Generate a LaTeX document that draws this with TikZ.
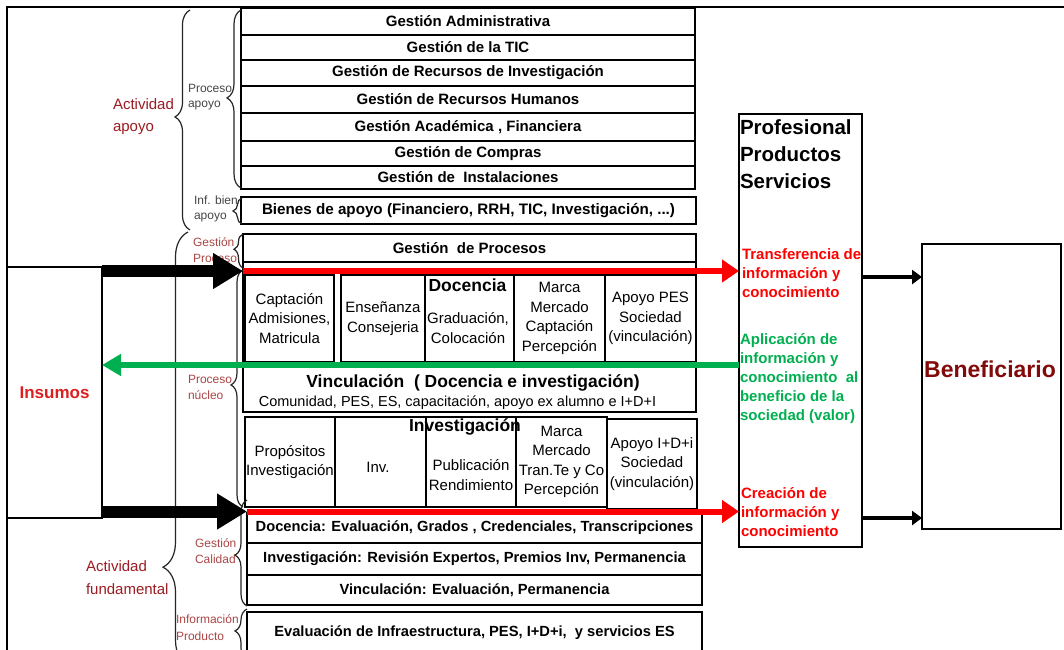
\documentclass[tikz,border=0pt]{standalone}
\usepackage{fontspec}
\setmainfont{Liberation Sans}
\usetikzlibrary{arrows.meta,decorations.pathreplacing,calc}
\definecolor{labred}{RGB}{155,28,34}
\definecolor{labsoft}{RGB}{170,70,70}
\definecolor{labgrey}{RGB}{70,70,70}
\definecolor{insred}{RGB}{220,30,30}
\definecolor{benred}{RGB}{130,10,10}
\definecolor{flowred}{RGB}{255,0,0}
\definecolor{flowgreen}{RGB}{0,176,80}
\newcommand{\fsz}[2]{\fontsize{#1}{#2}\selectfont}

\begin{document}
\begin{tikzpicture}[x=1pt,y=-1pt,
  every node/.style={inner sep=0pt, outer sep=0pt},
  box/.style={draw, line width=1.6pt, align=center},
  supbox/.style={box, minimum width=454pt, font=\bfseries\fsz{15}{17}},
  cellbox/.style={box, line width=1.4pt, font=\fsz{15}{19.5}},
  celltext/.style={align=center, font=\fsz{15}{19.5}},
  qbox/.style={box, minimum width=455pt, font=\bfseries\fsz{14.7}{17}},
  sidelab/.style={align=left, anchor=west},
  bracepath/.style={decorate, line width=1.2pt, draw=black!85},
  fatarrow/.style={draw=black, line width=12pt, -{Triangle[length=30pt,width=34pt]}},
  redarrow/.style={draw=flowred, line width=6pt, -{Triangle[length=17pt,width=22pt]}},
  greenarrow/.style={draw=flowgreen, line width=6pt, -{Triangle[length=19pt,width=21pt]}},
  outarrow/.style={draw=black, line width=4pt, -{Triangle[length=10pt,width=14pt]}}
]
\useasboundingbox (0,0) rectangle (1064,649);
\clip (0,0) rectangle (1064,649);
\fill[white] (0,0) rectangle (1064,649);

% outer frame
\draw[line width=2pt] (7,670) -- (7,7) -- (1080,7);

% support processes
\node[supbox, minimum height=27pt] (ga) at (468,21.5) {Gestión Administrativa};
\node[supbox, minimum height=25pt] (gt) at (468,47.5) {Gestión de la TIC};
\node[supbox, minimum height=26pt] (gri) at (468,73) {Gestión de Recursos de Investigación};
\node[supbox, minimum height=27pt] (grh) at (468,99.5) {Gestión de Recursos Humanos};
\node[supbox, minimum height=28pt] (gaf) at (468,127) {Gestión Académica , Financiera};
\node[supbox, minimum height=25pt] (gc) at (468,153.5) {Gestión de Compras};
\node[supbox, minimum height=23pt] (gi) at (468,177.5) {Gestión de \ Instalaciones};
\node[supbox, minimum width=455pt, minimum height=27pt, font=\bfseries\fsz{15.2}{17}] (bienes) at (468.5,210.5) {Bienes de apoyo (Financiero, RRH, TIC, Investigación, ...)};
\node[supbox, minimum width=453pt, minimum height=28pt] (gproc) at (469.5,248) {Gestión \ de Procesos};

% core block: teaching and outreach
\node[box, minimum width=453pt, minimum height=150pt] (docblock) at (469.5,337) {};
\node[cellbox, minimum width=89pt, minimum height=87pt] (c1) at (289.5,318.5) {Captación\\Admisiones,\\Matricula};
\node[cellbox, minimum width=84pt, minimum height=87pt] (c2) at (383,318.5) {Enseñanza\\Consejeria};
\node[cellbox, minimum width=89pt, minimum height=87pt] (c3) at (469.5,318.5) {};
\node[cellbox, minimum width=91pt, minimum height=87pt] (c4) at (559.5,318.5) {Marca\\Mercado\\Captación\\Percepción};
\node[cellbox, minimum width=91pt, minimum height=87pt] (c5) at (650.5,318.5) {Apoyo PES\\Sociedad\\(vinculación)};
\node[font=\bfseries\fsz{17.5}{20}] (doct) at (467.5,285) {Docencia};
\node[celltext] (c3t) at (468,328) {Graduación,\\Colocación};
\node[font=\bfseries\fsz{17.5}{20}] (vinct) at (473,383) {Vinculación \ ( Docencia e investigación)};
\node[font=\fsz{14.5}{17}] (vincs) at (457.5,403) {Comunidad, PES, ES, capacitación, apoyo ex alumno e I+D+I};

% core block: research
\node[cellbox, minimum width=90pt, minimum height=90pt] (i1) at (290,462) {Propósitos\\Investigación};
\node[cellbox, minimum width=91pt, minimum height=90pt] (i2) at (380.5,462) {};
\node[cellbox, minimum width=90pt, minimum height=90pt] (i3) at (471,462) {};
\node[cellbox, minimum width=91pt, minimum height=90pt] (i4) at (561.5,462) {Marca\\Mercado\\Tran.Te y Co\\Percepción};
\node[cellbox, minimum width=90pt, minimum height=90pt] (i5) at (652,464) {Apoyo I+D+i\\Sociedad\\(vinculación)};
\node[celltext] (i2t) at (378,467) {Inv.};
\node[celltext] (i3t) at (471,475) {Publicación\\Rendimiento};
\node[font=\bfseries\fsz{17.5}{20}] (invt) at (465,427) {Investigación};

% quality management
\node[qbox, minimum height=30pt] (q1) at (474.5,528) {Docencia: Evaluación, Grados , Credenciales, Transcripciones};
\node[qbox, minimum height=32pt] (q2) at (474.5,559) {Investigación: Revisión Expertos, Premios Inv, Permanencia};
\node[qbox, minimum height=30pt] (q3) at (474.5,590) {Vinculación: Evaluación, Permanencia};
\node[qbox, minimum height=42pt] (q4) at (474.5,633) {Evaluación de Infraestructura, PES, I+D+i, \ y servicios ES};

% inputs, outputs, beneficiary
\node[box, minimum width=95pt, minimum height=251pt, text=insred, font=\bfseries\fsz{17}{20}] (insumos) at (54.5,392.5) {Insumos};
\node[box, minimum width=123pt, minimum height=433pt] (prof) at (800.5,330.5) {};
\node[box, minimum width=139pt, minimum height=285pt] (ben) at (991.5,386.5) {};
\node[text=benred, font=\bfseries\fsz{23}{26}] (bent) at (990,369) {Beneficiario};

\node[sidelab, font=\bfseries\fsz{20.5}{27}] (proft) at (740,154) {Profesional\\Productos\\Servicios};
\node[sidelab, text=flowred, font=\bfseries\fsz{15}{19}] (transf) at (742,273) {Transferencia de\\información y\\conocimiento};
\node[sidelab, text=flowgreen, font=\bfseries\fsz{15}{19}] (aplic) at (740,379) {Aplicación de\\información y\\conocimiento \ al\\beneficio de la\\sociedad (valor)};
\node[sidelab, text=flowred, font=\bfseries\fsz{15}{19}] (creac) at (741,512.5) {Creación de\\información y\\conocimiento};

% left-hand labels
\node[sidelab, text=labred, font=\fsz{15}{22}] (actap) at (113,117) {Actividad\\apoyo};
\node[sidelab, text=labred, font=\fsz{15}{23}] (actfu) at (86,578) {Actividad\\fundamental};
\node[sidelab, text=labgrey, font=\fsz{12}{15}] (papoyo) at (188,97) {Proceso\\apoyo};
\node[sidelab, text=labgrey, font=\fsz{12}{15}] (infb) at (194,209) {Inf. bien\\apoyo};
\node[sidelab, text=labsoft, font=\fsz{12}{16}] (gpl) at (193,250) {Gestión\\Proceso};
\node[sidelab, text=labsoft, font=\fsz{12}{16}] (pnl) at (188,387) {Proceso\\núcleo};
\node[sidelab, text=labsoft, font=\fsz{12}{16}] (gcl) at (195,551) {Gestión\\Calidad};
\node[sidelab, text=labsoft, font=\fsz{12}{17}] (ipl) at (176,628) {Información\\Producto};

% braces
\draw[bracepath, decoration={brace, amplitude=15pt, aspect=0.514}] (190,230) -- (190,10);
\draw[bracepath, decoration={brace, amplitude=25pt, aspect=0.226}] (188,665) -- (188,232);
\draw[bracepath, decoration={brace, amplitude=14pt, aspect=0.506}] (241,188) -- (241,10);
\draw[bracepath, decoration={brace, amplitude=9pt, aspect=0.5}] (242,224) -- (242,198);
\draw[bracepath, decoration={brace, amplitude=9pt, aspect=0.55}] (243,268) -- (243,234);
\draw[bracepath, decoration={brace, amplitude=12pt, aspect=0.515}] (243,507) -- (243,270);
\draw[bracepath, decoration={brace, amplitude=12pt, aspect=0.48}] (247,606) -- (247,500);
\draw[bracepath, decoration={brace, amplitude=12pt, aspect=0.57}] (247,660) -- (247,609);

% flow levels
\coordinate (lvtop) at (0,271);
\coordinate (lvmid) at (0,365);
\coordinate (lvbot) at (0,511.5);
\coordinate (outtop) at (0,277);
\coordinate (outbot) at (0,518);

\draw[redarrow] (docblock.west |- lvtop) -- (prof.west |- lvtop);
\draw[redarrow] (q1.west |- lvbot) -- (prof.west |- lvbot);
\draw[greenarrow] (prof.west |- lvmid) -- (insumos.east |- lvmid);
\draw[fatarrow] (insumos.east |- lvtop) -- (docblock.west |- lvtop);
\draw[fatarrow] (insumos.east |- lvbot) -- (q1.west |- lvbot);
\draw[outarrow] (prof.east |- outtop) -- (ben.west |- outtop);
\draw[outarrow] (prof.east |- outbot) -- (ben.west |- outbot);
\end{tikzpicture}
\end{document}
